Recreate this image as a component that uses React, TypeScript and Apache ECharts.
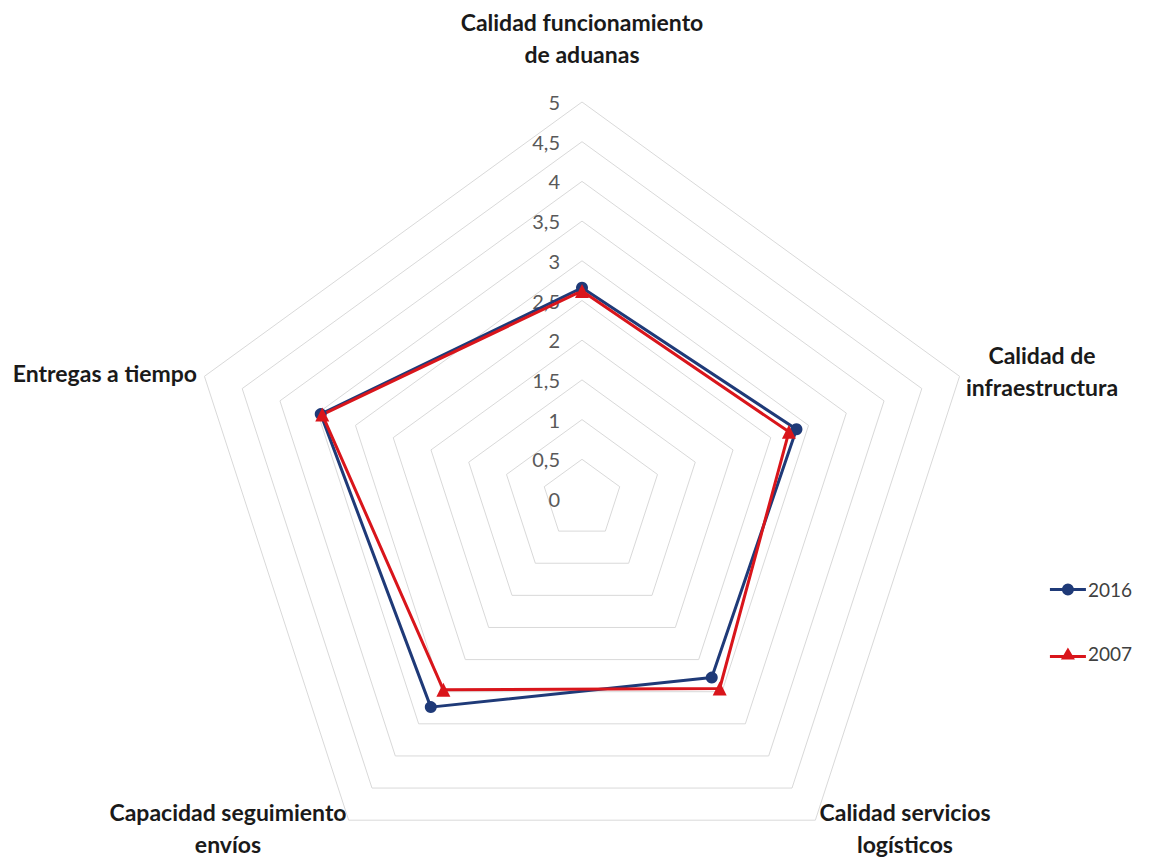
import React, { useEffect, useRef } from "react";
import * as echarts from "echarts";

// Indicators listed counter-clockwise starting at the top (ECharts radar order)
const indicatorNames = [
  "Calidad funcionamiento\nde aduanas",
  "Entregas a tiempo",
  "Capacidad seguimiento\nenvíos",
  "Calidad servicios\nlogísticos",
  "Calidad de\ninfraestructura",
];
const seriesNames = ["2016", "2007"];
const values2016 = [2.66, 3.46, 3.24, 2.78, 2.84];
const values2007 = [2.62, 3.44, 2.97, 2.95, 2.74];
const axisMax = 5;

// label placement (layout only)
const namePos: [number, number, string][] = [
  [582, 38, "center"],
  [197, 373, "right"],
  [228, 828, "center"],
  [905, 828, "center"],
  [1042, 371, "center"],
];

const iconCircle =
  "path://M0,4.5 L36,4.5 L36,7.5 L0,7.5 Z M12,6 A6,6 0 1,1 24,6 A6,6 0 1,1 12,6 Z";
const iconTriangle =
  "path://M0,7.5 L36,7.5 L36,10.5 L0,10.5 Z M11,12 L18,0 L25,12 Z";

export default function App() {
  const ref = useRef<HTMLDivElement>(null);
  useEffect(() => {
    const chart = echarts.init(ref.current!, null, { renderer: "svg" });
    const font = "Lato, 'Open Sans', sans-serif";
    chart.setOption({
      animation: false,
      backgroundColor: "#ffffff",
      legend: {
        orient: "vertical",
        right: 18,
        top: 575,
        itemGap: 45,
        itemWidth: 36,
        itemHeight: 12,
        data: [
          { name: seriesNames[0], icon: iconCircle },
          { name: seriesNames[1], icon: iconTriangle },
        ],
        textStyle: { fontFamily: font, fontSize: 19, color: "#404040", padding: [0, 0, 0, -3] },
      },
      radar: {
        center: [582, 499],
        radius: 397,
        startAngle: 90,
        shape: "polygon",
        splitNumber: 10,
        axisName: { show: false },
        axisLine: { show: false },
        axisTick: { show: false },
        splitArea: { show: false },
        splitLine: { lineStyle: { color: "#D9D9D9", width: 1 } },
        axisLabel: {
          show: false,
          fontFamily: font,
          fontSize: 20,
          color: "#595959",
          margin: 22,
          formatter: (v: number) => String(v).replace(".", ","),
        },
        indicator: indicatorNames.map((n, i) =>
          i === 0
            ? { name: n, max: axisMax, min: 0, axisLabel: { show: true } }
            : { name: n, max: axisMax, min: 0 }
        ),
      },
      graphic: indicatorNames.map((n, i) => ({
        type: "text",
        x: namePos[i][0],
        y: namePos[i][1],
        style: {
          text: n,
          fontFamily: font,
          fontWeight: "bold",
          fontSize: 23,
          lineHeight: 32,
          fill: "#1a1a1a",
          align: namePos[i][2],
          verticalAlign: "middle",
        },
      })),
      series: [
        {
          type: "radar",
          name: "radar",
          data: [
            {
              name: seriesNames[0],
              value: values2016,
              symbol: "circle",
              symbolSize: 12,
              lineStyle: { color: "#1F3A78", width: 3 },
              itemStyle: { color: "#1F3A78" },
            },
            {
              name: seriesNames[1],
              value: values2007,
              symbol: "triangle",
              symbolSize: 14,
              lineStyle: { color: "#D9151B", width: 3 },
              itemStyle: { color: "#D9151B" },
            },
          ],
        },
      ],
    });
    return () => chart.dispose();
  }, []);
  return (
    <div
      ref={ref}
      style={{ position: "absolute", left: 0, top: 0, width: 1155, height: 858 }}
    />
  );
}
